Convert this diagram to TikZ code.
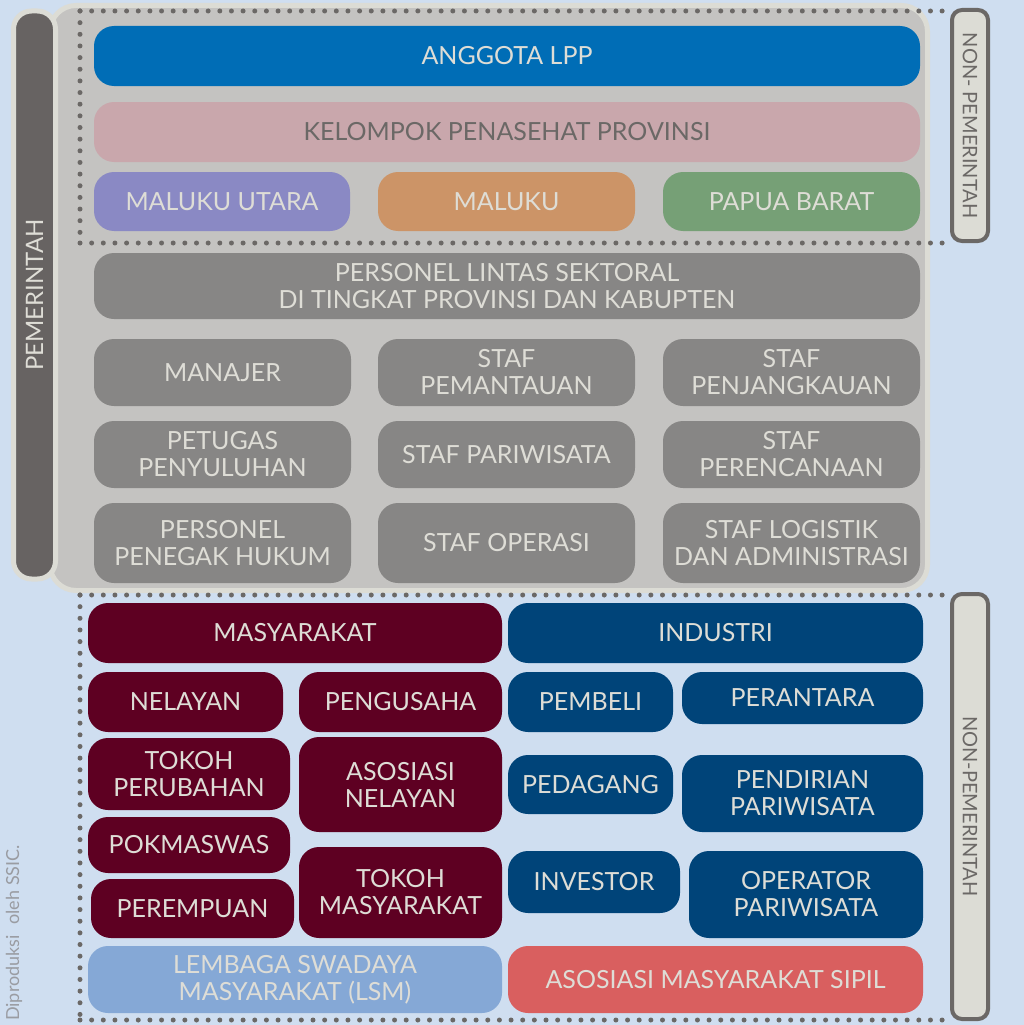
\documentclass[tikz,border=0pt]{standalone}
\usepackage{fontspec}
\setmainfont{Lato}
\usepackage{tikz}
\definecolor{bgblue}{HTML}{CFDEF0}
\definecolor{panelgrey}{HTML}{C4C3C1}
\definecolor{panelrim}{HTML}{DCDCD5}
\definecolor{bargrey}{HTML}{676362}
\definecolor{dotgrey}{HTML}{6B6866}
\definecolor{paletext}{HTML}{DEDDD6}
\definecolor{lppblue}{HTML}{006DB6}
\definecolor{penasehat}{HTML}{C9A7AC}
\definecolor{malutpurple}{HTML}{8A89C4}
\definecolor{malukuorange}{HTML}{CC9467}
\definecolor{papuagreen}{HTML}{76A076}
\definecolor{staffgrey}{HTML}{878685}
\definecolor{masymaroon}{HTML}{5E0022}
\definecolor{industrinavy}{HTML}{004479}
\definecolor{lsmblue}{HTML}{85A8D6}
\definecolor{sipilred}{HTML}{D95F5F}
\definecolor{creditgrey}{HTML}{9A9CA2}
\newcommand{\pillfont}{\fontsize{25}{27}\selectfont}
\newcommand{\sidefont}{\fontsize{20}{22}\selectfont}
\tikzset{
  pill/.style     = {rounded corners=20pt, inner sep=0pt, align=center,
                     text=paletext, font=\pillfont},
  wh/.style 2 args = {minimum width=#1pt, minimum height=#2pt},
  bar/.style      = {fill=bargrey, draw=panelrim, line width=5pt, rounded corners=18pt,
                     inner sep=0pt, text=paletext, font=\fontsize{24}{26}\selectfont},
  sidebox/.style  = {fill=panelrim, draw=dotgrey, line width=4pt, rounded corners=10pt,
                     inner sep=0pt, text=dotgrey, font=\sidefont},
  dotline/.style  = {draw=dotgrey, line width=5pt, line cap=round,
                     dash pattern=on 0pt off 11.65pt},
}

\begin{document}
\begin{tikzpicture}[x=1pt,y=-1pt]
  \useasboundingbox[fill=bgblue] (0,0) rectangle (1024,1025);
  % government panel and side bar
  \draw[line width=5pt, draw=panelrim, fill=panelgrey, rounded corners=26pt]
    (50,5.5) rectangle (927.5,590.5);
  \node[bar, rotate=90, wh={568}{42}] (pemerintah) at (34.5,295) {PEMERINTAH};
  % non-government labels
  \node[sidebox, rotate=-90, wh={231}{36}] (nonatas) at (970,125.5) {NON- PEMERINTAH};
  \node[sidebox, rotate=-90, wh={425}{36}] (nonbawah) at (970,806.5) {NON-PEMERINTAH};
  % dotted frames
  \draw[dotline] (80,11) -- (948,11);
  \draw[dotline] (80,11) -- (80,243);
  \draw[dotline] (80,243) -- (948,243);
  \draw[dotline] (80,595) -- (948,595);
  \draw[dotline] (80,595) -- (80,1020);
  \draw[dotline] (80,1020) -- (948,1020);
  % provincial level
  \node[pill, wh={826}{60}, fill=lppblue] (lpp) at (507,56) {ANGGOTA LPP};
  \node[pill, wh={826}{60}, fill=penasehat, text=dotgrey] (penasehat) at (507,132) {KELOMPOK PENASEHAT PROVINSI};
  \node[pill, wh={256}{59}, fill=malutpurple] (malut) at (222,201.5) {MALUKU UTARA};
  \node[pill, wh={257}{59}, fill=malukuorange] (maluku) at (506.5,201.5) {MALUKU};
  \node[pill, wh={257}{59}, fill=papuagreen] (papua) at (791.5,201.5) {PAPUA BARAT};
  % cross-sector staff
  \node[pill, wh={826}{66}, fill=staffgrey] (lintas) at (507,286) {PERSONEL LINTAS SEKTORAL\\DI TINGKAT PROVINSI DAN KABUPTEN};
  \node[pill, wh={257}{67}, fill=staffgrey] (manajer) at (222.5,372.5) {MANAJER};
  \node[pill, wh={257}{67}, fill=staffgrey] (pemantauan) at (506.5,372.5) {STAF\\PEMANTAUAN};
  \node[pill, wh={257}{67}, fill=staffgrey] (penjangkauan) at (791.5,372.5) {STAF\\PENJANGKAUAN};
  \node[pill, wh={257}{67}, fill=staffgrey] (penyuluhan) at (222.5,454.5) {PETUGAS\\PENYULUHAN};
  \node[pill, wh={257}{67}, fill=staffgrey] (pariwisata) at (506.5,454.5) {STAF PARIWISATA};
  \node[pill, wh={257}{67}, fill=staffgrey] (perencanaan) at (791.5,454.5) {STAF\\PERENCANAAN};
  \node[pill, wh={257}{80}, fill=staffgrey] (hukum) at (222.5,543) {PERSONEL\\PENEGAK HUKUM};
  \node[pill, wh={257}{80}, fill=staffgrey] (operasi) at (506.5,543) {STAF OPERASI};
  \node[pill, wh={257}{80}, fill=staffgrey] (logistik) at (791.5,543) {STAF LOGISTIK\\DAN ADMINISTRASI};
  % community side
  \node[pill, wh={414}{60}, fill=masymaroon] (masyarakat) at (295,633) {MASYARAKAT};
  \node[pill, wh={195}{60}, fill=masymaroon] (nelayan) at (185.5,702) {NELAYAN};
  \node[pill, wh={203}{60}, fill=masymaroon] (pengusaha) at (400.5,702) {PENGUSAHA};
  \node[pill, wh={202}{72}, fill=masymaroon] (perubahan) at (189,774) {TOKOH\\PERUBAHAN};
  \node[pill, wh={203}{95}, fill=masymaroon] (asnelayan) at (400.5,784.5) {ASOSIASI\\NELAYAN};
  \node[pill, wh={202}{56}, fill=masymaroon] (pokmaswas) at (189,845) {POKMASWAS};
  \node[pill, wh={203}{59}, fill=masymaroon] (perempuan) at (192.5,908.5) {PEREMPUAN};
  \node[pill, wh={203}{91}, fill=masymaroon] (tokohmasy) at (400.5,892.5) {TOKOH\\MASYARAKAT};
  % industry side
  \node[pill, wh={415}{60}, fill=industrinavy] (industri) at (715.5,633) {INDUSTRI};
  \node[pill, wh={165}{60}, fill=industrinavy] (pembeli) at (590.5,702) {PEMBELI};
  \node[pill, wh={241}{52}, fill=industrinavy] (perantara) at (802.5,698) {PERANTARA};
  \node[pill, wh={165}{59}, fill=industrinavy] (pedagang) at (590.5,784.5) {PEDAGANG};
  \node[pill, wh={241}{77}, fill=industrinavy] (pendirian) at (802.5,793.5) {PENDIRIAN\\PARIWISATA};
  \node[pill, wh={172}{62}, fill=industrinavy] (investor) at (594,882) {INVESTOR};
  \node[pill, wh={234}{87}, fill=industrinavy] (operator) at (806,894.5) {OPERATOR\\PARIWISATA};
  % civil society
  \node[pill, wh={414}{67}, fill=lsmblue] (lsm) at (295,979.5) {LEMBAGA SWADAYA\\MASYARAKAT (LSM)};
  \node[pill, wh={415}{67}, fill=sipilred] (sipil) at (715.5,979.5) {ASOSIASI MASYARAKAT SIPIL};
  % credit line
  \node[rotate=90, text=creditgrey, font=\fontsize{18}{20}\selectfont, inner sep=0pt] (kredit) at (14,933) {Diproduksi\hspace{6pt} oleh SSIC.};
\end{tikzpicture}
\end{document}
